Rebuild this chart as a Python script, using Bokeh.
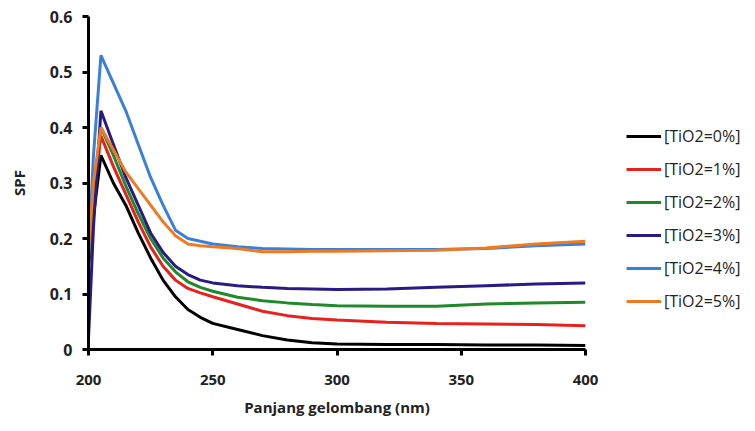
from bokeh.plotting import figure
from bokeh.models import Legend, LegendItem, FixedTicker, Range1d
from bokeh.embed import file_html
from bokeh.resources import INLINE

# wavelength (nm)
wl = [200, 202, 205, 210, 215, 220, 225, 230, 235, 240, 245, 250, 260, 270, 280,
      290, 300, 320, 340, 360, 380, 400]

tio2_0 = [0.15, 0.24, 0.35, 0.30, 0.26, 0.21, 0.165, 0.125, 0.095, 0.072, 0.058, 0.047,
          0.036, 0.025, 0.017, 0.012, 0.010, 0.009, 0.009, 0.008, 0.008, 0.007]
tio2_1 = [0.16, 0.27, 0.385, 0.33, 0.28, 0.23, 0.185, 0.15, 0.125, 0.11, 0.102, 0.095,
          0.082, 0.069, 0.061, 0.056, 0.053, 0.049, 0.047, 0.046, 0.045, 0.043]
tio2_2 = [0.16, 0.28, 0.40, 0.35, 0.295, 0.245, 0.20, 0.165, 0.14, 0.122, 0.112, 0.105,
          0.094, 0.088, 0.084, 0.081, 0.079, 0.078, 0.078, 0.082, 0.084, 0.085]
tio2_3 = [0.02, 0.22, 0.43, 0.37, 0.31, 0.26, 0.21, 0.175, 0.15, 0.135, 0.125, 0.12,
          0.115, 0.112, 0.110, 0.109, 0.108, 0.109, 0.112, 0.115, 0.118, 0.12]
tio2_4 = [0.17, 0.35, 0.53, 0.48, 0.43, 0.37, 0.31, 0.26, 0.215, 0.20, 0.195, 0.19,
          0.185, 0.182, 0.181, 0.180, 0.180, 0.180, 0.180, 0.182, 0.187, 0.19]
tio2_5 = [0.18, 0.30, 0.40, 0.36, 0.32, 0.29, 0.26, 0.23, 0.205, 0.19, 0.187, 0.185,
          0.182, 0.176, 0.176, 0.177, 0.177, 0.178, 0.179, 0.183, 0.19, 0.195]

labels = ["[TiO2=0%]", "[TiO2=1%]", "[TiO2=2%]", "[TiO2=3%]", "[TiO2=4%]", "[TiO2=5%]"]
colors = ["#000000", "#E8211E", "#1E8A2A", "#2A1A86", "#3A80D8", "#F07A22"]
series = [tio2_0, tio2_1, tio2_2, tio2_3, tio2_4, tio2_5]

x_ticks = [200, 250, 300, 350, 400]
y_ticks = [0, 0.1, 0.2, 0.3, 0.4, 0.5, 0.6]

FONT = "Open Sans"

p = figure(frame_width=497, frame_height=333, output_backend="svg", toolbar_location=None,
           x_range=Range1d(200, 400), y_range=Range1d(0, 0.6),
           min_border_left=88, min_border_right=10, min_border_top=16,
           min_border_bottom=72)
p.outline_line_color = None
p.xgrid.visible = False
p.ygrid.visible = False

renderers = []
for ys, c in zip(series, colors):
    r = p.line(wl, ys, line_color=c, line_width=3)
    renderers.append(r)

for ax in (p.xaxis[0], p.yaxis[0]):
    ax.axis_line_width = 3
    ax.axis_line_color = "#000000"
    ax.major_tick_line_width = 3
    ax.major_tick_line_color = "#000000"
    ax.major_tick_out = 6
    ax.major_tick_in = 0
    ax.minor_tick_line_color = None
    ax.major_label_text_font = FONT
    ax.major_label_text_font_style = "bold"
    ax.major_label_text_font_size = "15px"
    ax.major_label_text_color = "#222222"
    ax.axis_label_text_font = FONT
    ax.axis_label_text_font_style = "bold"
    ax.axis_label_text_font_size = "15px"
    ax.axis_label_text_color = "#222222"

p.yaxis[0].major_label_text_font_size = "16px"
p.xaxis[0].ticker = FixedTicker(ticks=x_ticks)
p.yaxis[0].ticker = FixedTicker(ticks=y_ticks)
p.yaxis[0].major_label_overrides = {0: "0", 0.1: "0.1", 0.2: "0.2", 0.3: "0.3",
                                    0.4: "0.4", 0.5: "0.5", 0.6: "0.6"}
p.xaxis[0].axis_label = "Panjang gelombang (nm)"
p.yaxis[0].axis_label = "SPF"
p.xaxis[0].major_label_standoff = 19
p.xaxis[0].axis_label_standoff = 9
p.yaxis[0].major_label_standoff = 10
p.yaxis[0].axis_label_standoff = 18

items = [LegendItem(label=l, renderers=[r]) for l, r in zip(labels, renderers)]
legend = Legend(items=items, location=(41, 37), orientation="vertical",
                glyph_width=35, glyph_height=20, label_height=20, spacing=11,
                padding=0, margin=0, label_standoff=3,
                label_text_font=FONT, label_text_font_size="16px",
                label_text_color="#222222", border_line_color=None,
                background_fill_alpha=0)
p.add_layout(legend, "right")

open("out.html", "w").write(file_html(p, INLINE))
